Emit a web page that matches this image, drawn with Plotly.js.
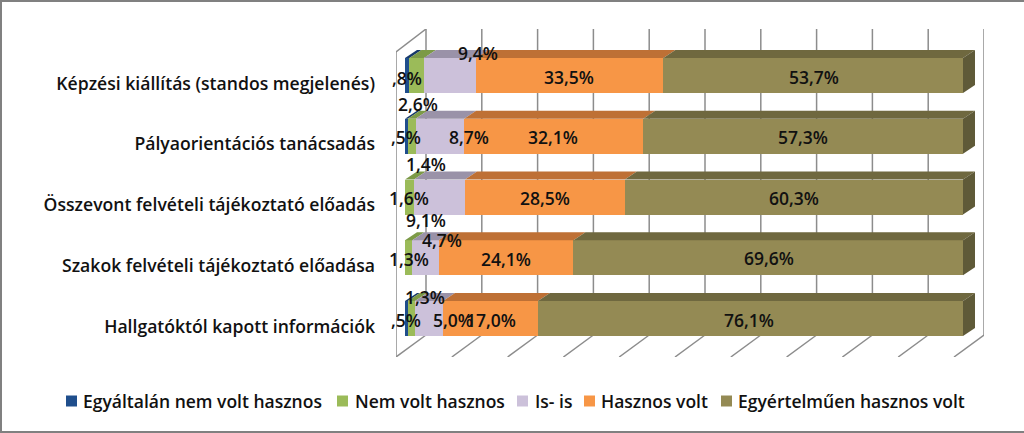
<!DOCTYPE html>
<html><head><meta charset="utf-8">
<script src="https://cdn.plot.ly/plotly-3.0.1.min.js"></script>
<style>html,body{margin:0;padding:0;background:#fff;overflow:hidden}
#wrap{position:relative;width:1024px;height:433px}
#frame{position:absolute;left:0;top:0;right:0;bottom:0;border:solid #808080;border-width:2px 0 2px 2px;pointer-events:none}
#chart{width:1024px;height:433px}</style></head>
<body><div id="wrap"><div id="chart"></div><div id="frame"></div></div>
<script>
// --- data (top row first) ---
const categories = ["Képzési kiállítás (standos megjelenés)","Pályaorientációs tanácsadás","Összevont felvételi tájékoztató előadás","Szakok felvételi tájékoztató előadása","Hallgatóktól kapott információk"];
const seriesNames = ["Egyáltalán nem volt hasznos","Nem volt hasznos","Is- is","Hasznos volt","Egyértelműen hasznos volt"];
const egyaltalanNem = [0.8,0.5,0,0,0.5];
const nemVolt = [2.6,1.4,1.6,1.3,1.3];
const isIs = [9.4,8.7,9.1,4.7,5.0];
const hasznos = [33.5,32.1,28.5,24.1,17.0];
const egyertelmuen = [53.7,57.3,60.3,69.6,76.1];
const axisTicks = [0,10,20,30,40,50,60,70,80,90,100];

// --- styles ---
const frontColors = ["#1F4E8C","#9BBB59","#CCC1DA","#F79646","#948A54"];
const topColors = ["#17396A","#7C9A47","#9A92A8","#BE7035","#6F683F"];
const sideColor = "#5F5A38";
const gridColor = "#8C8C8C";
const textFont = '"Open Sans","Noto Sans",sans-serif';

// label nudges in px from each segment's centre [row][series]
const labelDx = [[0,1,28,-1,1],[0,14,29,-1,0],[0,0,-13,0,0],[0,0,17,0,1],[0,14,24,1,-1]];
const labelDy = [[2,28,-23,1,1],[1,28,1,1,1],[0,1,23,1,1],[0,1,-18,1,0],[1,-22,1,1,1]];
// legend placement in px
const legendSwatchX = [66,337,517,584,721];
const legendTextX = [82,354,534,600,737];
const legendY = 401, swatch = 11;

// --- 3-D geometry in axis units ---
const mL=396, mR=40, mT=29, mB=76, plotW=1024-mL-mR, plotH=433-mT-mB;
const pxX = 5.58, pxY = 60.75;
const barW = 35/pxY, depthX = 12/pxX, depthY = 8/pxY;
const wallFrontX = -9/pxX, wallBackX = 21/pxX;
const floorFront = -38.5/pxY, floorBack = -16.5/pxY, wallTop = 4+(75.5-29)/pxY, leftTop = 4+(75.5-52)/pxY;
const xRange = [-9/pxX, (984-405)/pxX], yRange = [floorFront, wallTop];

const all = [egyaltalanNem,nemVolt,isIs,hasznos,egyertelmuen];
const n = categories.length;
const yIdx = categories.map((_,i)=>n-1-i);
const totals = categories.map((_,r)=>all.reduce((s,a)=>s+a[r],0));
const fmt = v => v.toFixed(1).replace('.',',').replace(/^0/,'')+'%';

const traces = [], annotations = [];
all.forEach((vals,s)=>{
  traces.push({type:'bar',orientation:'h',name:seriesNames[s],x:vals,y:yIdx,width:barW,
    marker:{color:frontColors[s],line:{width:0}},hoverinfo:'x+name',showlegend:false});
});
all.forEach((vals,s)=>{
  const fx=[],fy=[];
  vals.forEach((v,r)=>{
    if(!v) return;
    let st=0; for(let k=0;k<s;k++) st+=all[k][r];
    const a=st/totals[r]*100,b=(st+v)/totals[r]*100,yt=yIdx[r]+barW/2;
    fx.push(a,b,b+depthX,a+depthX,a,null); fy.push(yt,yt,yt+depthY,yt+depthY,yt,null);
    const dx=labelDx[r][s],dy=labelDy[r][s];
    annotations.push({xref:'x',yref:'y',x:(a+b)/2,y:yIdx[r],text:fmt(v),showarrow:false,xshift:dx,yshift:-dy,
      xanchor:'center',yanchor:'middle',font:{family:textFont,size:17.5,color:'#111',weight:600}});
  });
  traces.push({type:'scatter',mode:'lines',x:fx,y:fy,fill:'toself',fillcolor:topColors[s],line:{width:0},showlegend:false,hoverinfo:'skip'});
});
const sx=[],sy=[];
yIdx.forEach(y=>{const yb=y-barW/2,yt=y+barW/2;sx.push(100,100,100+depthX,100+depthX,100,null);sy.push(yb,yt,yt+depthY,yb+depthY,yb,null);});
traces.push({type:'scatter',mode:'lines',x:sx,y:sy,fill:'toself',fillcolor:sideColor,line:{width:0},showlegend:false,hoverinfo:'skip'});

// walls and floor behind the bars
const shapes=[];
const ln=(x0,y0,x1,y1)=>shapes.push({type:'line',layer:'below',xref:'x',yref:'y',x0,y0,x1,y1,line:{color:gridColor,width:1.5}});
axisTicks.forEach(t=>{
  ln(t+wallBackX,floorBack,t+wallBackX,wallTop);
  ln(t+wallFrontX,floorFront,t+wallBackX,floorBack);
});
ln(wallFrontX,floorFront,wallFrontX,leftTop);
ln(wallFrontX,leftTop,wallBackX,wallTop);

// legend
const pX=p=>(p-mL)/plotW, pY=p=>(433-mB-p)/plotH;
seriesNames.forEach((name,s)=>{
  shapes.push({type:'rect',xref:'paper',yref:'paper',x0:pX(legendSwatchX[s]),x1:pX(legendSwatchX[s]+swatch),
    y0:pY(legendY-swatch/2),y1:pY(legendY+swatch/2),fillcolor:frontColors[s],line:{width:0}});
  annotations.push({xref:'paper',yref:'paper',x:pX(legendTextX[s]),y:pY(legendY),text:name,showarrow:false,
    xanchor:'left',yanchor:'middle',xshift:0,font:{family:textFont,size:17.5,color:'#111',weight:600},borderpad:0});
});

Plotly.newPlot('chart',traces,{
  width:1024,height:433,barmode:'stack',barnorm:'percent',
  margin:{l:mL,r:mR,t:mT,b:mB,pad:0},
  paper_bgcolor:'#fff',plot_bgcolor:'rgba(0,0,0,0)',showlegend:false,
  xaxis:{range:xRange,showgrid:false,zeroline:false,showticklabels:false,ticks:'',showline:false,fixedrange:true},
  yaxis:{range:yRange,tickmode:'array',tickvals:yIdx.map(y=>y-8/pxY),ticktext:categories,showgrid:false,zeroline:false,showline:false,
    ticks:'',ticklabelstandoff:20,tickfont:{family:textFont,size:17.6,color:'#111',weight:600},fixedrange:true},
  shapes,annotations
},{displayModeBar:false,staticPlot:true});
</script></body></html>
